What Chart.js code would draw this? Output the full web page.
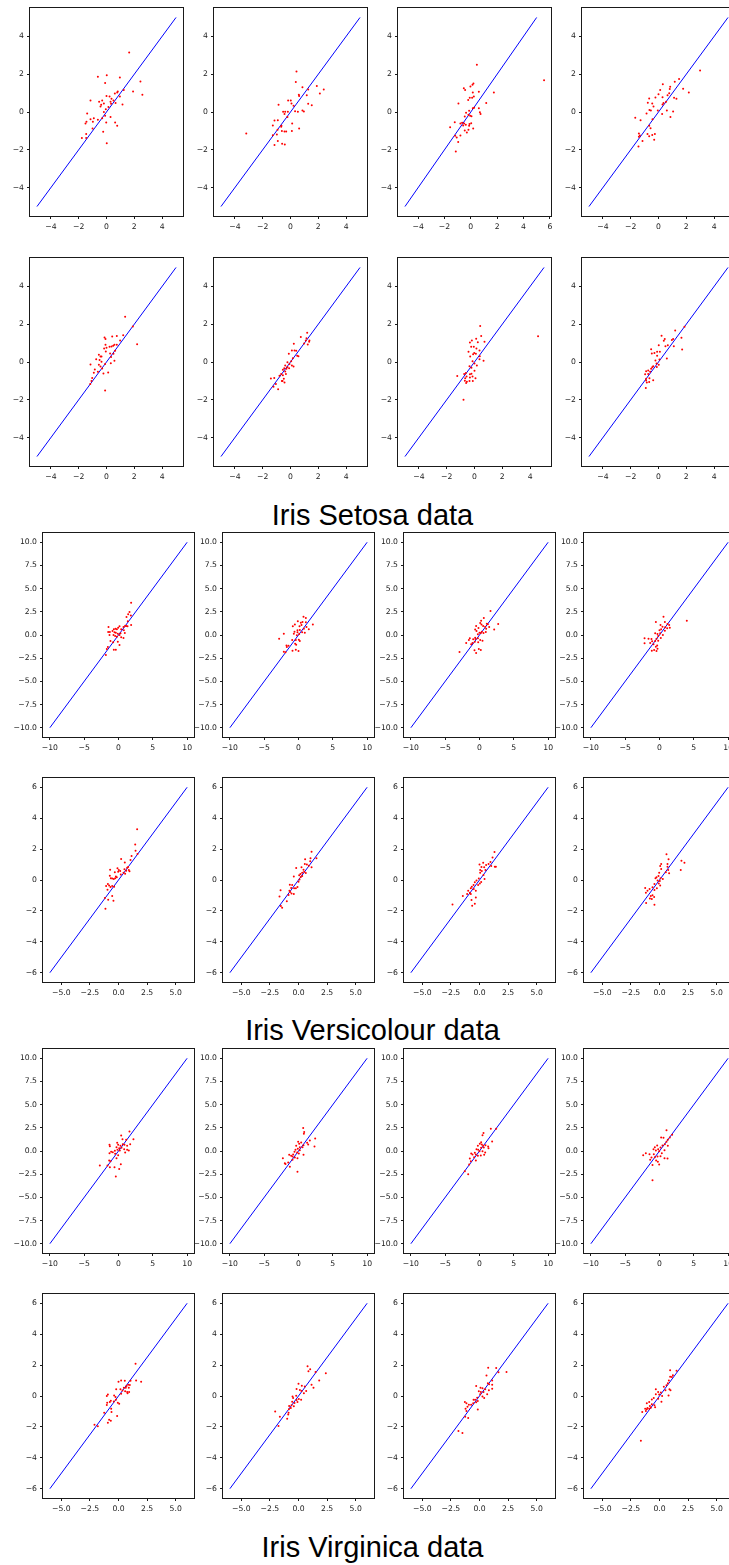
<!DOCTYPE html>
<html>
<head>
<meta charset="utf-8">
<script src="https://cdn.jsdelivr.net/npm/chart.js@4.4.0/dist/chart.umd.min.js"></script>
<style>
html, body { margin:0; padding:0; background:#fff; overflow:hidden; width:729px; height:1565px; position:relative; }
canvas { position:absolute; }
.title { position:absolute; left:0; width:745px; text-align:center; font-family:"Liberation Sans", Arial, sans-serif; font-size:29px; line-height:29px; color:#000; white-space:nowrap; }
</style>
</head>
<body>
<div class="title" style="top:501px">Iris Setosa data</div>
<div class="title" style="top:1016px">Iris Versicolour data</div>
<div class="title" style="top:1533px">Iris Virginica data</div>
<script>
// Iris Setosa
var se1 = [[1.63,3.15],[-0.62,1.86],[0.02,1.95],[-0.1,1.54],[0.96,1.83],[2.44,1.61],[1.91,1.08],[2.58,0.91],[1.24,1.16],[0.81,1.08],[0.77,1.03],[0.6,0.98],[0.96,0.82],[0,0.84],[0.22,0.82],[-1.15,0.61],[-0.53,0.54],[-0.31,0.61],[-0.19,0.45],[-0.38,0.38],[-0.43,0.29],[0.36,0.7],[0.29,0.54],[0.5,0.61],[0.65,0.47],[1.15,0.4],[0.33,0.43],[-0.19,0],[-0.05,0.15],[0.14,0.26],[-1.39,-0.08],[-0.31,-0.33],[-0.1,-0.2],[0.29,-0.27],[-1.15,-0.38],[-0.98,-0.52],[-0.91,-0.33],[-0.62,-0.41],[-1.44,-0.52],[-1.51,-0.61],[-0.02,-0.56],[0.62,-0.56],[0.77,-0.73],[-1.0,-0.87],[-0.24,-1.05],[-1.46,-1.17],[-1.77,-1.38],[-1.46,-1.37],[0.02,-1.65]];
var se2 = [[0.43,2.14],[0.38,1.58],[0.86,1.31],[1.89,1.37],[2.39,1.19],[1.27,1.19],[2.11,0.98],[0.6,0.91],[0.62,0.84],[1.17,0.89],[-0.17,0.61],[0.02,0.61],[-0.86,0.38],[0.07,0.45],[0.22,0.33],[1.27,0.43],[1.53,0.36],[0.33,0.04],[0.53,0.01],[0.86,0.08],[0.96,0.03],[-0.53,0.01],[-0.38,0.01],[-0.43,-0.1],[-0.19,0.01],[-0.22,-0.27],[0.12,-0.61],[-0.91,-0.43],[-1.15,-0.45],[-1.27,-0.71],[-0.65,-0.73],[-0.67,-0.78],[0.62,-0.87],[-0.93,-0.94],[-0.62,-1.0],[-0.43,-1.03],[-0.31,-1.03],[0.1,-1.01],[-1.27,-1.23],[-0.91,-1.53],[-1.15,-1.74],[-0.6,-1.68],[-0.41,-1.72],[-3.18,-1.14],[-0.98,-1.19]];
var se3 = [[0.46,2.5],[5.56,1.68],[-0.53,1.26],[-0.43,1.16],[-0.03,1.35],[0.13,1.44],[0.2,1.51],[0.15,1.03],[0.61,1.07],[1.75,1.03],[-0.08,0.75],[0.1,0.75],[0.23,0.82],[-0.2,0.64],[-0.94,0.45],[1.17,0.48],[0.15,0.2],[0.25,0.22],[0.61,0.2],[0.69,-0.01],[0.74,-0.1],[-0.36,-0.04],[-0.13,0.06],[-0.05,-0.2],[0.05,-0.22],[-0.46,-0.24],[-0.18,-0.15],[-1.22,-0.54],[-1.57,-0.8],[-0.66,-0.57],[-0.51,-0.61],[-0.38,-0.68],[-0.1,-0.63],[0.03,-0.59],[-0.58,-0.71],[-0.13,-0.73],[0.18,-0.87],[-0.46,-0.98],[-0.18,-0.94],[-0.3,-1.08],[-0.79,-1.24],[-1.07,-1.35],[-1.19,-1.26],[-0.96,-1.58],[-1.14,-2.09],[-0.79,-0.61]];
var se4 = [[2.99,2.2],[1.48,1.74],[1.17,1.6],[0.31,1.47],[1.77,1.23],[2.18,1.03],[0.12,1.16],[0.84,1.33],[0.81,1.21],[0.77,0.99],[0,0.94],[0.65,0.89],[-0.22,0.77],[0.29,0.78],[1.12,0.75],[1.29,0.7],[-0.67,0.71],[-0.77,0.49],[-0.45,0.45],[0.29,0.4],[0.36,0.47],[-0.36,0.29],[0.55,0.54],[-0.05,0.08],[-0.65,0.11],[-0.55,0.08],[0.6,0.08],[1.05,0.03],[0.26,-0.11],[-0.86,-0.08],[0.86,-0.26],[-1.67,-0.31],[-1.29,-0.43],[-0.43,-0.38],[-0.57,-0.86],[-0.67,-0.73],[-0.79,-1.17],[-0.67,-1.28],[-0.45,-1.21],[-0.26,-1.16],[-1.41,-1.14],[-1.34,-1.24],[-1.41,-1.31],[-1.15,-1.53],[-0.31,-1.47],[-1.44,-1.83]];
var se5 = [[1.34,2.39],[1.89,1.88],[2.2,0.94],[-0.14,1.3],[-0.07,1.21],[0.41,1.35],[0.74,1.37],[1.2,1.42],[0.98,1.14],[0.57,0.91],[0.74,0.91],[0.48,0.86],[0.36,0.82],[0.22,0.8],[-0.07,0.91],[-0.17,0.71],[0,0.75],[-0.05,0.56],[0.26,0.45],[0.5,0.43],[0.33,0.26],[-0.55,0.38],[-0.43,0.29],[-0.36,0.29],[-0.74,0.15],[-0.5,0.11],[-0.36,0.01],[0.57,0.06],[0.31,-0.06],[-0.1,-0.11],[-1.15,-0.13],[-0.55,-0.15],[-0.43,-0.24],[-0.31,-0.34],[-0.84,-0.4],[0.12,-0.56],[-0.22,-0.61],[-0.62,-0.52],[-0.91,-0.57],[-1.03,-0.84],[-1.08,-1.0],[-1.17,-1.17],[-0.1,-1.51],[0.62,0.59]];
var se6 = [[1.2,1.55],[0.74,1.32],[1.15,1.26],[1.1,1.14],[0.24,0.96],[0.98,0.98],[1.36,1.14],[1.34,1.07],[1.24,0.93],[0.1,0.61],[0.29,0.61],[0.41,0.59],[-0.12,0.43],[0.48,0.33],[0.57,0.31],[0.17,0.2],[0.05,0.04],[-0.22,-0.01],[-0.07,-0.1],[0.1,-0.19],[0.22,-0.24],[-0.38,-0.19],[-0.22,-0.27],[-0.1,-0.33],[-0.45,-0.33],[-0.29,-0.36],[-0.55,-0.41],[-0.38,-0.5],[-0.67,-0.64],[-0.55,-0.7],[-0.33,-0.63],[-0.79,-0.73],[-0.48,-0.89],[-0.57,-1.0],[-0.43,-1.08],[-1.41,-0.87],[-1.17,-0.84],[-1.22,-1.31],[-1.05,-1.16],[-0.89,-1.44],[-0.62,-1.01]];
var se7 = [[0.41,1.91],[0.48,1.38],[4.57,1.36],[-0.33,1.03],[-0.19,1.14],[0.12,1.23],[0.24,1.05],[0.72,1.07],[-0.24,0.8],[-0.05,0.8],[0.14,0.71],[0.36,0.61],[-0.43,0.54],[-0.02,0.48],[-0.31,0.29],[-0.1,0.41],[0.1,0.43],[0.38,0.31],[0.36,0.15],[0.65,0.06],[-0.14,0.04],[0,-0.08],[0.17,-0.19],[-0.22,-0.3],[-0.36,-0.23],[0,-0.46],[-0.62,-0.58],[-0.74,-0.63],[-1.24,-0.74],[-0.57,-0.77],[-0.33,-0.65],[-0.22,-0.62],[-0.33,-0.82],[-0.14,-0.77],[0.07,-0.86],[-0.69,-0.99],[-0.55,-1.04],[-0.6,-1.11],[-0.36,-1.01],[-0.12,-1.01],[-0.79,-1.99],[-0.67,-0.86]];
var se8 = [[1.2,1.67],[1.87,1.86],[0.22,1.39],[0.45,1.21],[0.38,1.12],[0.96,1.17],[1.05,1.21],[1.65,1.28],[0.02,0.88],[0.67,0.88],[0.5,0.83],[1.1,0.83],[1.7,0.66],[-0.53,0.67],[-0.48,0.45],[-0.29,0.47],[-0.1,0.54],[0.1,0.54],[-0.1,0.33],[0.6,0.19],[-0.22,0.08],[0.07,0.13],[-0.14,-0.08],[0.02,-0.15],[-0.12,-0.26],[-0.38,-0.23],[-0.45,-0.28],[-0.53,-0.36],[-0.74,-0.45],[-0.6,-0.51],[-0.89,-0.49],[-0.96,-0.65],[-0.74,-0.63],[-0.89,-0.88],[-0.65,-0.86],[-0.89,-0.98],[-0.67,-1.06],[-0.38,-0.97],[-0.91,-1.38],[-0.84,-1.09]];
// Iris Versicolour
var ve1 = [[1.84,3.49],[1.6,2.48],[1.41,2.23],[1.8,2.09],[1.17,1.94],[1.36,1.47],[1.84,1.08],[0.97,1.01],[1.12,0.97],[1.31,0.94],[0.73,0.86],[-1.46,0.86],[0.15,0.94],[-0.05,0.79],[-0.44,0.68],[-0.24,0.61],[-0.68,0.61],[0.39,0.61],[0.78,0.5],[-0.87,0.43],[-1.5,0.32],[-1.26,0.32],[-0.58,0.29],[-0.39,0.25],[-0.1,0.14],[0.29,0.18],[0.92,0.22],[-1.31,0],[-0.73,0],[-0.49,-0.11],[-0.24,-0.18],[0.15,0],[0.39,-0.25],[0.73,-0.32],[-1.17,-0.65],[-0.78,-0.79],[-0.1,-0.72],[0.15,-1.08],[-1.55,-1.29],[-1.7,-1.51],[-0.68,-1.58],[-0.39,-1.58],[-1.84,-2.16]];
var ve2 = [[0.73,1.98],[1.07,1.83],[-0.1,1.47],[0.34,1.33],[0.58,1.4],[1.07,1.37],[2.09,1.12],[-0.53,1.12],[-0.83,0.94],[0.15,0.94],[0.44,1.08],[1.17,0.86],[0.78,0.68],[1.5,0.61],[-0.15,0.5],[0.19,0.54],[-0.58,0.36],[-0.15,0.29],[0.53,0.29],[0.92,0.25],[-0.68,0.14],[0.1,0.11],[-2.14,0.14],[-0.24,-0.04],[-2.82,-0.4],[-0.92,-0.54],[-0.39,-0.54],[0.05,-0.5],[0.19,-0.65],[-0.49,-0.94],[-0.34,-1.04],[-1.75,-1.12],[-1.46,-1.15],[-1.7,-1.29],[-0.87,-1.69],[-0.39,-1.58],[0,-1.73],[-2.14,-1.8],[-1.89,-1.87]];
var ve3 = [[1.6,2.59],[0.63,1.83],[0.24,1.55],[0.1,1.29],[1.07,1.22],[2.72,1.19],[-0.49,0.97],[-0.15,0.76],[0.29,1.12],[0.53,0.97],[0.83,0.9],[1.21,1.15],[1.41,0.86],[0.97,0.68],[-0.63,0.58],[-0.44,0.43],[2.14,0.58],[0.34,0.36],[0.92,0.32],[0,0.25],[0.19,0.22],[0.58,0.22],[-0.24,0.07],[-0.63,-0.29],[-1.41,-0.36],[-0.92,-0.47],[-0.58,-0.43],[-0.24,-0.36],[0.1,-0.54],[0.44,-0.61],[-1.55,-0.54],[-1.94,-0.86],[-1.02,-0.86],[-0.68,-0.72],[-0.19,-0.79],[-1.21,-1.01],[-0.73,-1.65],[-0.1,-1.51],[0.19,-1.62],[-0.49,-1.94],[-2.91,-1.83]];
var ve4 = [[0.58,1.98],[-0.53,1.4],[3.98,1.55],[0.78,1.4],[1.17,1.19],[1.41,1.08],[0.15,1.08],[0.44,0.9],[0.83,0.83],[1.5,0.79],[1.12,0.72],[0.24,0.61],[0,0.5],[0.78,0.47],[-0.63,0.18],[-0.29,0.11],[0.1,0.18],[0.49,0],[-0.19,-0.11],[-2.18,-0.36],[-1.6,-0.4],[-1.17,-0.43],[-0.44,-0.4],[0.19,-0.32],[-1.07,-0.68],[-0.63,-0.65],[-0.19,-0.61],[-2.18,-0.9],[-1.36,-0.86],[-0.87,-1.01],[-0.53,-1.26],[-0.34,-1.12],[-1.12,-1.69],[-0.78,-1.62],[-0.44,-1.73],[-0.29,-1.47]];
var ve5 = [[1.63,3.28],[1.46,2.29],[1.49,1.9],[1.66,1.68],[1.14,1.55],[1.05,1.3],[0.23,1.36],[0.55,1.14],[0.76,0.8],[0.84,0.84],[0.9,0.65],[0.67,0.6],[0.52,0.69],[0.44,0.47],[0.58,0.41],[0.96,0.56],[-0.73,0.67],[-0.09,0.76],[0.03,0.65],[-0.03,0.54],[0.15,0.58],[-0.32,0.5],[-0.76,0.28],[-0.67,0.11],[-0.55,0.09],[-0.41,0.06],[-0.29,0.11],[-0.23,0.22],[-0.15,0.17],[0.2,0.35],[-0.93,-0.26],[-0.82,-0.35],[-0.7,-0.45],[-0.55,-0.39],[-0.38,-0.43],[-1.08,-0.39],[-0.96,-0.63],[-1.19,-1.17],[-0.9,-1.27],[-0.55,-1.04],[-0.44,-1.34],[-1.14,-1.86]];
var ve6 = [[1.14,1.83],[0.58,1.34],[1.05,1.4],[1.57,1.4],[1.02,1.21],[0.55,1.04],[0.73,1.01],[0.9,0.93],[1.14,0.82],[-0.2,0.78],[0.26,0.82],[0.44,0.67],[0.5,0.54],[0.64,0.45],[0.32,0.47],[0.17,0.39],[0.06,0.3],[0.32,0.26],[0.2,0.19],[-0.41,0.22],[0.09,0.04],[0,-0.11],[-0.76,-0.3],[-0.55,-0.32],[-0.64,-0.52],[-0.38,-0.54],[-0.23,-0.54],[-0.09,-0.45],[-0.41,-0.91],[-0.79,-0.69],[-0.73,-0.78],[-0.61,-0.88],[-0.87,-0.97],[-1.02,-1.38],[-1.57,-0.67],[-1.66,-1.06],[-1.54,-1.69],[-1.43,-1.79]];
var ve7 = [[1.31,1.81],[1.14,1.45],[0.96,1.17],[1.34,0.86],[1.43,0.86],[0.79,1.04],[1.02,0.91],[0.58,0.97],[0.32,1.12],[0,1.01],[0.41,0.82],[0.17,0.84],[0.06,0.65],[0.2,0.58],[0.06,0.47],[0.52,0.65],[0.35,0.32],[0.44,0.06],[-0.06,0.09],[-0.26,-0.04],[-0.41,-0.15],[-0.12,-0.32],[0.03,-0.22],[0.15,-0.13],[-0.52,-0.32],[-0.67,-0.43],[-0.76,-0.54],[-0.5,-0.58],[-0.32,-0.69],[-0.99,-0.69],[-0.84,-0.82],[-1.08,-0.91],[-0.76,-0.91],[-1.46,-1.04],[-0.7,-1.3],[-0.32,-1.14],[-0.41,-1.53],[-0.64,-1.66],[-2.36,-1.58]];
var ve8 = [[0.61,1.66],[1.92,1.25],[2.18,1.12],[1.86,0.65],[0.79,1.34],[0.7,1.04],[0.15,1.04],[0.06,0.91],[0.7,0.86],[0.76,0.65],[0.84,0.43],[0.55,0.5],[0.15,0.71],[-0.03,0.47],[-0.26,0.17],[-0.09,0.26],[0.09,0.11],[0.29,0.06],[-0.35,0.11],[-0.17,-0.04],[0.03,-0.06],[-0.06,-0.22],[0.06,-0.35],[-0.44,-0.26],[-0.61,-0.47],[-0.23,-0.54],[-0.44,-0.65],[-1.25,-0.52],[-1.05,-0.69],[-0.87,-0.58],[-1.19,-0.82],[-0.76,-1.04],[-0.61,-0.99],[-0.47,-1.1],[-0.84,-1.19],[-0.67,-1.23],[-1.17,-1.49],[-0.44,-1.6]];
// Iris Virginica
var vi1 = [[1.6,2.11],[0.39,1.68],[2.18,1.28],[1.12,1.21],[0.58,1.28],[1.7,0.74],[0.63,0.74],[0.87,0.67],[-1.31,0.67],[-1.26,0.52],[-0.19,0.88],[-0.05,0.67],[0.29,0.56],[1.26,0.56],[-0.29,0.41],[0.1,0.31],[0.44,0.34],[0.83,0.2],[1.26,0.13],[1.5,0.05],[-0.15,0.13],[0.19,0.05],[-0.53,0.02],[-1.07,-0.09],[-1.31,-0.23],[-0.83,-0.13],[0.97,-0.16],[-0.49,-0.31],[-0.05,-0.45],[-0.29,-0.77],[-1.36,-1.03],[-1.17,-1.1],[-2.72,-1.57],[0.34,-1.42],[-1.6,-1.57],[-1.26,-1.75],[-0.58,-1.75],[0.1,-1.93],[-0.39,-2.76]];
var vi2 = [[0.68,2.47],[0.83,2.04],[0.78,1.86],[2.43,1.35],[1.65,1.14],[1.26,0.88],[1.41,0.7],[2.33,0.49],[0.73,0.63],[-0.05,0.99],[0.39,0.92],[0.1,0.77],[0.58,0.41],[0.19,0.41],[-0.34,0.56],[-0.44,0.13],[-0.1,0.23],[0.19,0.09],[-0.58,-0.09],[-0.19,-0.16],[0.05,-0.27],[0.73,-0.41],[-0.78,-0.38],[-1.36,-0.41],[-1.07,-0.52],[-0.87,-0.59],[-0.53,-0.7],[-0.15,-0.77],[-2.28,-0.77],[-0.87,-0.95],[-1.5,-1.24],[-1.89,-1.39],[-1.99,-1.31],[-1.26,-1.71],[-0.15,-2.25]];
var vi3 = [[1.65,2.4],[2.43,2.4],[0.58,1.93],[0.44,1.71],[0.24,0.95],[1.84,1.03],[0.05,0.77],[0.34,0.7],[0.53,0.56],[-0.24,0.56],[0.87,0.63],[1.26,0.49],[0.24,0.34],[0.63,0.38],[1.31,0.31],[-0.44,0.2],[-0.19,0.13],[0,-0.02],[0.44,-0.02],[0.83,-0.16],[-0.68,-0.2],[-1.21,-0.27],[-1.02,-0.38],[-0.53,-0.38],[-0.24,-0.52],[0.19,-0.49],[0.68,-0.41],[-1.41,-0.81],[-0.78,-0.67],[-1.26,-1.1],[-0.53,-1.03],[-1.5,-1.46],[-2.14,-2.18],[-1.65,-2.5]];
var vi4 = [[1.02,2.25],[0.24,1.46],[0.58,1.42],[1.84,1.75],[1.5,1.46],[1.21,1.21],[1.02,0.99],[0.78,0.74],[0.44,0.59],[0.15,0.38],[-0.34,0.59],[-0.68,0.41],[-0.19,0.2],[-0.87,0.2],[-0.53,0.05],[-0.05,-0.02],[0.34,-0.23],[0.73,0.09],[1.21,0.56],[-1.99,-0.23],[-2.38,-0.45],[-1.46,-0.34],[-0.83,-0.34],[-1.17,-0.7],[-0.68,-0.67],[-0.29,-0.59],[0.15,-0.56],[0.73,-0.77],[1.17,-0.81],[-1.36,-0.95],[-0.49,-1.03],[-0.24,-1.17],[-0.05,-1.46],[-1.02,-1.5],[-1.02,-3.15]];
var vi5 = [[1.49,2.09],[1.98,0.93],[1.54,1.01],[1.05,0.99],[0.23,1.01],[0.55,0.99],[0,0.93],[0.84,0.73],[0.99,0.71],[0.7,0.65],[0.47,0.54],[0.64,0.54],[0.9,0.54],[0.17,0.43],[-0.2,0.43],[0.35,0.35],[0.58,0.3],[0.76,0.26],[0.93,0.26],[0.23,0.15],[0.79,0.17],[-0.93,0.09],[-1.02,0],[-0.38,0.04],[-0.26,-0.06],[-0.23,-0.24],[-0.41,-0.35],[-0.06,-0.43],[0.06,-0.5],[-0.67,-0.3],[-0.76,-0.39],[-0.99,-0.43],[-1.02,-0.58],[-0.64,-0.82],[-1.25,-1.08],[-0.61,-1.04],[-0.12,-1.3],[-0.82,-1.53],[-0.67,-1.6],[-0.93,-1.73],[-2.1,-1.86],[-1.81,-1.96]];
var vi6 = [[0.79,1.92],[1.02,1.73],[0.87,1.6],[1.49,1.55],[2.39,1.47],[1.81,1.01],[1.14,0.73],[1.31,0.54],[0,0.8],[0.29,0.67],[0.55,0.62],[0.67,0.32],[0.47,0.17],[-0.17,0.45],[0.12,0.39],[0.26,0.32],[-0.52,-0.04],[-0.47,-0.13],[-0.2,0.02],[0.03,-0.19],[0.23,-0.24],[-0.17,-0.26],[-0.55,-0.37],[-0.35,-0.45],[-0.09,-0.39],[-0.61,-0.6],[-0.82,-0.65],[-0.41,-0.67],[-0.67,-0.78],[-0.84,-0.86],[-0.87,-1.08],[-0.9,-1.19],[-0.99,-1.47],[-1.63,-1.34],[-2.04,-1.01],[-1.75,-1.94]];
var vi7 = [[0.76,1.83],[1.46,1.81],[1.66,1.53],[2.36,1.55],[0.61,1.32],[0.73,0.82],[0.84,0.76],[1.11,1.01],[1.11,0.73],[1.11,0.47],[-0.29,0.65],[0.09,0.54],[0.26,0.5],[0.5,0.43],[0.82,0.37],[-0.06,0.3],[0.12,0.26],[0.35,0.26],[0.67,0.11],[0.06,0.11],[0.26,-0.04],[0.41,-0.13],[-0.2,-0.11],[-0.52,-0.24],[-0.38,-0.24],[-0.15,-0.32],[-0.29,-0.41],[-0.55,-0.47],[-1.28,-0.39],[-1.14,-0.47],[-0.93,-0.56],[-1.05,-0.69],[-1.22,-0.82],[-1.14,-0.97],[-0.15,-0.88],[-0.73,-0.56],[-0.99,-1.42],[-1.84,-2.27],[-1.49,-2.4],[-1.25,-1.34]];
var vi8 = [[0.93,1.66],[1.49,1.64],[1.17,1.34],[0.93,1.25],[1.08,1.23],[0.82,1.01],[0.73,0.82],[0.61,0.69],[0.38,0.6],[0.87,0.43],[0.96,0.37],[0.79,0.04],[0.52,0.37],[-0.32,0.43],[-0.12,0.26],[0.12,0.22],[-0.03,0.09],[-0.32,0.11],[0.23,0],[-0.5,-0.13],[-0.12,-0.17],[0.17,-0.37],[-0.67,-0.22],[-0.9,-0.39],[-0.67,-0.54],[-0.44,-0.6],[-1.11,-0.47],[-0.84,-0.65],[-1.05,-0.78],[-1.25,-0.82],[-1.11,-0.86],[-0.9,-0.82],[-0.76,-0.76],[-0.38,-0.73],[-1.51,-1.04],[-1.19,-0.97],[-1.63,-2.9]];

// y = x reference line half-length per row of plots
var lineLimits = [5, 5, 10, 6, 10, 6];

// tick values (kept only where they fall inside the axis range)
var ticksSmall = [-6, -4, -2, 0, 2, 4, 6];
var ticksWideX = [-10, -5, 0, 5, 10];
var ticksWideY = [-10, -7.5, -5, -2.5, 0, 2.5, 5, 7.5, 10];
var ticksMidX = [-5, -2.5, 0, 2.5, 5];
var ticksMidY = [-6, -4, -2, 0, 2, 4, 6];

var rows = [
  [se1, se2, se3, se4],
  [se5, se6, se7, se8],
  [ve1, ve2, ve3, ve4],
  [ve5, ve6, ve7, ve8],
  [vi1, vi2, vi3, vi4],
  [vi5, vi6, vi7, vi8]
];

// layout of the axes boxes (pixels)
var rowTop = [8, 258, 533, 778, 1049, 1294];
var rowH = [208, 208, 204, 204, 204, 204];
var colLeftNarrow = [30, 214, 398, 582];
var colLeftWide = [43, 223, 404, 584];

var PAD_L = 40, PAD_R = 12, PAD_T = 8, PAD_B = 22;

function fmt(v, dec) {
  return v.toFixed(dec).replace('-', '\u2212');
}

function limits(vals, lim) {
  var lo = Math.min(-lim, Math.min.apply(null, vals));
  var hi = Math.max(lim, Math.max.apply(null, vals));
  var m = (hi - lo) * 0.05;
  return [lo - m, hi + m];
}

var framePlugin = {
  id: 'frame',
  afterDraw: function(chart) {
    var a = chart.chartArea, c = chart.ctx;
    c.save();
    c.strokeStyle = '#1a1a1a';
    c.lineWidth = 1;
    c.strokeRect(a.left - 0.5, a.top - 0.5, a.right - a.left + 1, a.bottom - a.top + 1);
    c.restore();
  }
};

function axis(range, tickVals, dec, isY) {
  return {
    type: 'linear',
    min: range[0],
    max: range[1],
    grid: { display: true, drawOnChartArea: false, drawTicks: true, tickLength: 3, color: '#1a1a1a', lineWidth: 1 },
    border: { display: false },
    ticks: {
      font: { family: 'DejaVu Sans', size: 7.7 },
      color: '#222',
      padding: 3,
      maxRotation: 0,
      autoSkip: false,
      callback: function(v) { return fmt(v, dec); }
    },
    afterBuildTicks: function(s) {
      s.ticks = tickVals.filter(function(v) { return v >= range[0] && v <= range[1]; })
        .map(function(v) { return { value: v }; });
    },
    afterFit: function(s) {
      if (isY) s.width = PAD_L; else s.height = PAD_B;
    }
  };
}

function makePlot(pts, r, c) {
  var lim = lineLimits[r];
  var narrow = r < 2;
  var left = narrow ? colLeftNarrow[c] : colLeftWide[c];
  var w = narrow ? 153 : 151;
  var h = rowH[r];
  var xr = limits(pts.map(function(p) { return p[0]; }), lim);
  var yr = limits(pts.map(function(p) { return p[1]; }), lim);
  var xt, yt, xd, yd;
  if (narrow) { xt = ticksSmall; yt = ticksSmall; xd = 0; yd = 0; }
  else if (lim === 10) { xt = ticksWideX; yt = ticksWideY; xd = 0; yd = 1; }
  else { xt = ticksMidX; yt = ticksMidY; xd = 1; yd = 0; }

  var cv = document.createElement('canvas');
  cv.width = w + PAD_L + PAD_R;
  cv.height = h + PAD_T + PAD_B;
  cv.style.left = (left - PAD_L) + 'px';
  cv.style.top = (rowTop[r] - PAD_T) + 'px';
  document.body.appendChild(cv);

  new Chart(cv, {
    type: 'scatter',
    data: {
      datasets: [
        {
          data: pts.map(function(p) { return { x: p[0], y: p[1] }; }),
          backgroundColor: '#ff0000',
          borderWidth: 0,
          pointRadius: 1,
          pointHoverRadius: 1
        },
        {
          data: [{ x: -lim, y: -lim }, { x: lim, y: lim }],
          showLine: true,
          borderColor: '#0000ff',
          borderWidth: 1,
          pointRadius: 0,
          fill: false
        }
      ]
    },
    options: {
      responsive: false,
      animation: false,
      events: [],
      layout: { padding: { left: 0, top: PAD_T, right: PAD_R, bottom: 0 } },
      plugins: { legend: { display: false }, tooltip: { enabled: false } },
      scales: {
        x: axis(xr, xt, xd, false),
        y: axis(yr, yt, yd, true)
      }
    },
    plugins: [framePlugin]
  });
}

for (var r = 0; r < rows.length; r++) {
  for (var c = 0; c < rows[r].length; c++) {
    makePlot(rows[r][c], r, c);
  }
}
</script>
</body>
</html>
